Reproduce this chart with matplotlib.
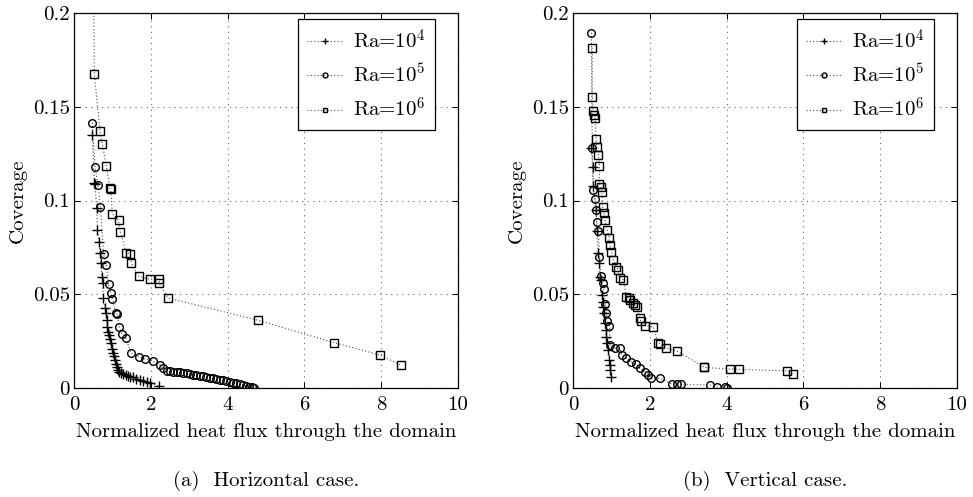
import matplotlib
matplotlib.use('Agg')
import matplotlib.pyplot as plt

plt.rcParams['font.family'] = ['cmr10', 'DejaVu Serif']
plt.rcParams['mathtext.fontset'] = 'cm'
plt.rcParams['axes.formatter.use_mathtext'] = True

# (a) horizontal case
h_x4 = [0.477, 0.53, 0.547, 0.59, 0.61, 0.65, 0.68, 0.70, 0.72, 0.75, 0.76, 0.81, 0.83,
        0.85, 0.87, 0.89, 0.92, 0.94, 0.96, 0.98, 1.02, 1.04, 1.07, 1.09, 1.11, 1.14, 1.18,
        1.22, 1.28, 1.35, 1.41, 1.47, 1.54, 1.62, 1.72, 1.80, 1.89, 1.98, 2.22]
h_y4 = [0.135, 0.1095, 0.109, 0.0958, 0.0843, 0.078, 0.0718, 0.0665, 0.0594, 0.0562, 0.0478,
        0.0425, 0.040, 0.0363, 0.0327, 0.030, 0.0283, 0.026, 0.0238, 0.021, 0.0185, 0.017,
        0.0149, 0.013, 0.0114, 0.0098, 0.0087, 0.008, 0.0073, 0.0068, 0.0064, 0.006, 0.0057,
        0.005, 0.0043, 0.0038, 0.0034, 0.0025, 0.001]

h_x5 = [0.477, 0.547, 0.625, 0.69, 0.77, 0.84, 0.90, 0.955, 1.0, 1.09, 1.12, 1.18, 1.25,
        1.35, 1.48, 1.70, 1.85, 2.05, 2.24, 2.32, 2.41, 2.50, 2.58, 2.67, 2.76, 2.85, 2.93,
        3.02, 3.10, 3.19, 3.28, 3.36, 3.45, 3.54, 3.62, 3.71, 3.80, 3.88, 3.97, 4.06, 4.15,
        4.23, 4.32, 4.40, 4.48, 4.56, 4.63, 4.70]
h_y5 = [0.1415, 0.118, 0.1085, 0.0964, 0.0713, 0.0658, 0.0553, 0.0507, 0.0475, 0.0398, 0.0395,
        0.0327, 0.029, 0.0268, 0.0188, 0.0167, 0.0155, 0.0142, 0.0123, 0.0105, 0.0092, 0.0090,
        0.0088, 0.0087, 0.0084, 0.0081, 0.0078, 0.0075, 0.0072, 0.0069, 0.0066, 0.0063, 0.0060,
        0.0056, 0.0052, 0.0048, 0.0044, 0.0041, 0.0037, 0.0033, 0.0029, 0.0025, 0.0020, 0.0015,
        0.0011, 0.0007, 0.0004, 0.0001]

h_x6 = [0.48, 0.53, 0.677, 0.737, 0.84, 0.9375, 0.955, 1.0, 1.16, 1.21, 1.36, 1.47, 1.49,
        1.68, 1.97, 2.22, 2.22, 2.45, 4.78, 6.77, 7.97, 8.52]
h_y6 = [0.27, 0.1675, 0.137, 0.130, 0.1186, 0.1065, 0.106, 0.093, 0.0894, 0.083, 0.0722,
        0.0715, 0.0667, 0.0596, 0.058, 0.058, 0.0558, 0.048, 0.0362, 0.0242, 0.0176, 0.0121]

# (b) vertical case
v_x4 = [0.48, 0.51, 0.53, 0.60, 0.62, 0.66, 0.69, 0.70, 0.72, 0.75, 0.77, 0.79, 0.80, 0.83,
        0.86, 0.87, 0.89, 0.92, 0.95, 0.96, 0.97, 0.99]
v_y4 = [0.128, 0.118, 0.108, 0.095, 0.084, 0.0718, 0.0665, 0.0594, 0.0576, 0.0496, 0.046,
        0.0434, 0.040, 0.0345, 0.031, 0.0274, 0.0238, 0.0203, 0.0149, 0.0123, 0.0097, 0.006]

v_x5 = [0.48, 0.50, 0.53, 0.57, 0.60, 0.62, 0.66, 0.69, 0.72, 0.77, 0.80, 0.83, 0.87, 0.89,
        0.95, 0.96, 1.09, 1.22, 1.27, 1.39, 1.52, 1.65, 1.74, 1.87, 1.96, 2.02, 2.26, 2.59,
        2.70, 2.80, 3.56, 3.74, 3.96, 4.00]
v_y5 = [0.1895, 0.128, 0.1056, 0.101, 0.095, 0.0887, 0.084, 0.070, 0.060, 0.0558, 0.053,
        0.045, 0.0398, 0.036, 0.033, 0.0229, 0.0212, 0.0212, 0.0176, 0.0158, 0.014, 0.0126,
        0.0105, 0.0087, 0.0069, 0.0052, 0.0052, 0.002, 0.002, 0.002, 0.0016, 0.0007, 0.0005, 0.0]

v_x6 = [0.50, 0.50, 0.53, 0.55, 0.57, 0.60, 0.62, 0.66, 0.69, 0.69, 0.72, 0.75, 0.77, 0.81,
        0.83, 0.89, 0.94, 0.96, 1.00, 1.05, 1.13, 1.18, 1.22, 1.31, 1.39, 1.45, 1.49, 1.55,
        1.61, 1.66, 1.74, 1.77, 1.88, 2.09, 2.22, 2.26, 2.42, 2.70, 3.40, 3.40, 4.09, 4.31,
        5.57, 5.73]
v_y6 = [0.1815, 0.155, 0.148, 0.1456, 0.144, 0.1326, 0.1287, 0.1243, 0.1184, 0.109, 0.107,
        0.1047, 0.0967, 0.0932, 0.0896, 0.0843, 0.0798, 0.0763, 0.0727, 0.0683, 0.0647, 0.063,
        0.0585, 0.0576, 0.0484, 0.048, 0.047, 0.0455, 0.0441, 0.0434, 0.0372, 0.0356, 0.0332,
        0.0327, 0.0242, 0.0236, 0.0215, 0.0197, 0.0114, 0.011, 0.0101, 0.0099, 0.0092, 0.0073]

labels = ['Ra=10$^4$', 'Ra=10$^5$', 'Ra=10$^6$']
markers = ['+', 'o', 's']
x_ticks = [0, 2, 4, 6, 8, 10]
y_ticks = [0, 0.05, 0.1, 0.15, 0.2]
y_ticklabels = ['0', '0.05', '0.1', '0.15', '0.2']
captions = ['(a)  Horizontal case.', '(b)  Vertical case.']

panels = [
    [(h_x4, h_y4), (h_x5, h_y5), (h_x6, h_y6)],
    [(v_x4, v_y4), (v_x5, v_y5), (v_x6, v_y6)],
]

fs = 15
fig = plt.figure(figsize=(9.73, 4.97), dpi=100)
lefts = [74 / 973, 573 / 973]
for left, series, cap in zip(lefts, panels, captions):
    ax = fig.add_axes([left, 109 / 497, 384 / 973, 375 / 497])
    for (xs, ys), m, lab in zip(series, markers, labels):
        ax.plot(xs, ys, linestyle=(0, (1, 2)), linewidth=0.8, color='0.3',
                marker=m, markersize=5.5 if m != '+' else 7, markerfacecolor='none',
                markeredgecolor='k', markeredgewidth=1.0, label=lab)
    ax.set_xlim(0, 10)
    ax.set_ylim(0, 0.2)
    ax.set_xticks(x_ticks)
    ax.set_xticklabels([str(t) for t in x_ticks])
    ax.set_yticks(y_ticks)
    ax.set_yticklabels(y_ticklabels)
    ax.tick_params(direction='in', top=True, right=True, length=4, width=0.7,
                   labelsize=fs)
    ax.tick_params(axis='x', pad=6)
    ax.tick_params(axis='y', pad=3)
    ax.grid(True, linestyle=(0, (1, 4)), linewidth=0.8, color='0.4')
    for sp in ax.spines.values():
        sp.set_linewidth(0.9)
    ax.set_xlabel('Normalized heat flux through the domain', fontsize=fs, labelpad=6)
    ax.set_ylabel('Coverage', fontsize=fs, labelpad=4)
    leg = ax.legend(loc='upper right', bbox_to_anchor=(361 / 384, 369 / 375),
                    borderaxespad=0, fancybox=False, framealpha=1, edgecolor='k',
                    fontsize=fs, handlelength=1.7, handletextpad=0.5,
                    labelspacing=0.5, borderpad=0.45, markerscale=0.65)
    leg.get_frame().set_linewidth(0.9)
    fig.text(left + 192 / 973, 11 / 497, cap, ha='center', va='baseline', fontsize=fs)

fig.savefig('out.png', dpi=100)
